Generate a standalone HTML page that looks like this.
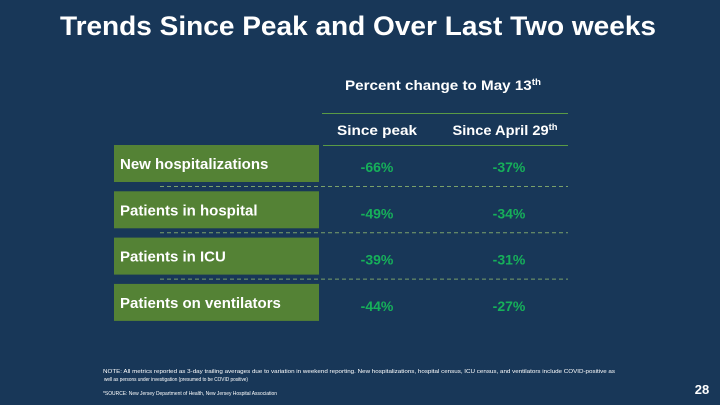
<!DOCTYPE html>
<html><head><meta charset="utf-8"><style>
html,body{margin:0;padding:0;background:#183758;}
svg{display:block;font-family:"Liberation Sans",sans-serif;}
</style></head><body>
<svg width="720" height="405" viewBox="0 0 720 405">
<rect width="720" height="405" fill="#183758"/>
<text x="358" y="35" text-anchor="middle" fill="#fff" font-size="27" font-weight="bold" textLength="596" lengthAdjust="spacingAndGlyphs">Trends Since Peak and Over Last Two weeks</text>
<text x="443" y="90" text-anchor="middle" fill="#fff" font-size="14" font-weight="bold" textLength="196" lengthAdjust="spacingAndGlyphs">Percent change to May 13<tspan font-size="9" dy="-5">th</tspan></text>
<line x1="322" y1="113.5" x2="568" y2="113.5" stroke="#5a9a45" stroke-width="1"/>
<text x="377" y="135" text-anchor="middle" fill="#fff" font-size="14" font-weight="bold" textLength="80" lengthAdjust="spacingAndGlyphs">Since peak</text>
<text x="505" y="135" text-anchor="middle" fill="#fff" font-size="14" font-weight="bold" textLength="105" lengthAdjust="spacingAndGlyphs">Since April 29<tspan font-size="9" dy="-5">th</tspan></text>
<line x1="323" y1="145.5" x2="568" y2="145.5" stroke="#5a9a45" stroke-width="1"/>
<g id="rows"></g>
<text x="103" y="373" fill="#fff" font-size="5.5" textLength="512" lengthAdjust="spacingAndGlyphs">NOTE: All metrics reported as 3-day trailing averages due to variation in weekend reporting. New hospitalizations, hospital census, ICU census, and ventilators include COVID-positive as</text>
<text x="104" y="381" fill="#fff" font-size="5.5" textLength="144" lengthAdjust="spacingAndGlyphs">well as persons under investigation (presumed to be COVID positive)</text>
<text x="103" y="395" fill="#fff" font-size="5.5" textLength="174" lengthAdjust="spacingAndGlyphs">*SOURCE: New Jersey Department of Health, New Jersey Hospital Association</text>
<text x="702" y="394" text-anchor="middle" fill="#fff" font-size="13" font-weight="bold">28</text>
</svg>
<script>
const categories = ["New hospitalizations","Patients in hospital","Patients in ICU","Patients on ventilators"];
const sincePeak = [-66,-49,-39,-44];
const sinceApril = [-37,-34,-31,-27];
const NS="http://www.w3.org/2000/svg";
const g=document.getElementById('rows');
function rowY(i){return 145+i*46.3;}
function mk(tag,attrs){const e=document.createElementNS(NS,tag);for(const k in attrs)e.setAttribute(k,attrs[k]);return e;}
categories.forEach((c,i)=>{
  const y=rowY(i);
  const r=mk('rect',{x:114,y:y,width:205,height:37,fill:'#548235'});
  
  
  g.appendChild(r);
  const t=mk('text',{x:120,y:y+24,fill:'#fff','font-size':15,'font-weight':'bold'});
  
  
  t.textContent=c;g.appendChild(t);
  const a=mk('text',{x:377,y:y+27,fill:'#16b05a','font-size':14,'font-weight':'bold','text-anchor':'middle'});
  
  
  a.textContent=sincePeak[i]+'%';g.appendChild(a);
  const b=mk('text',{x:509,y:y+27,fill:'#16b05a','font-size':14,'font-weight':'bold','text-anchor':'middle'});
  
  
  b.textContent=sinceApril[i]+'%';g.appendChild(b);
  if(i<categories.length-1){
    const l=mk('line',{x1:160,x2:568,y1:y+41.5,y2:y+41.5,stroke:'#7aa06a','stroke-width':1,'stroke-dasharray':'4,3'});
    
    
    g.appendChild(l);
  }
});
</script>
</body></html>
